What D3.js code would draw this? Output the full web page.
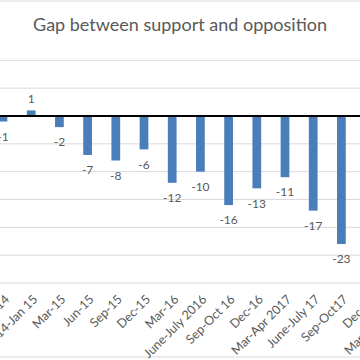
<!DOCTYPE html>
<html>
<head>
<meta charset="utf-8">
<script src="https://cdn.jsdelivr.net/npm/d3@7"></script>
<style>
  body { margin: 0; background: #fff; }
  svg { display: block; font-family: Lato, "Open Sans", sans-serif; }
</style>
</head>
<body>
<svg id="chart" width="360" height="360"></svg>
<script>
// data
const categories = ["Sep-14", "Dec 14-Jan 15", "Mar-15", "Jun-15", "Sep-15", "Dec-15", "Mar-16",
  "June-July 2016", "Sep-Oct 16", "Dec-16", "Mar-Apr 2017", "June-July 17", "Sep-Oct17",
  "Dec-17", "Mar-Apr 2018"];
const gap = [-1, 1, -2, -7, -8, -6, -12, -10, -16, -13, -11, -17, -23, null, null];
const yTicks = [10, 5, 0, -5, -10, -15, -20, -25, -30];

const svg = d3.select("#chart");
const W = 360, H = 360;

// chart border (only top and bottom fall inside the view)
svg.append("rect")
  .attr("x", -2).attr("y", 1)
  .attr("width", W + 4).attr("height", 356)
  .attr("fill", "none")
  .attr("stroke", "#d9d9d9");

// title
svg.append("text")
  .attr("x", 180)
  .attr("y", 31)
  .attr("text-anchor", "middle")
  .style("font-size", "18px")
  .style("fill", "#595959")
  .text("Gap between support and opposition");

// scales - plot runs off the left and right edge of the view
const step = 28.2;
const firstCenter = 3;
const x = d3.scaleBand()
  .domain(categories)
  .range([firstCenter - step / 2, firstCenter - step / 2 + step * categories.length])
  .paddingInner(0.69)
  .paddingOuter(0.345);

const y = d3.scaleLinear()
  .domain([-30, 10])
  .range([283, 60.3]);

// gridlines
svg.append("g")
  .selectAll("line")
  .data(yTicks.filter(d => d !== 0))
  .join("line")
    .attr("x1", -10).attr("x2", W + 10)
    .attr("y1", d => y(d)).attr("y2", d => y(d))
    .attr("stroke", "#d9d9d9")
    .attr("stroke-width", 1);

// bars
const rows = categories.map((c, i) => ({ cat: c, v: gap[i] })).filter(d => d.v != null);
svg.append("g")
  .selectAll("rect")
  .data(rows)
  .join("rect")
    .attr("x", d => x(d.cat))
    .attr("width", x.bandwidth())
    .attr("y", d => y(Math.max(0, d.v)))
    .attr("height", d => Math.abs(y(d.v) - y(0)))
    .attr("fill", "#4a7ebb");

// zero line
svg.append("line")
  .attr("x1", -10).attr("x2", W + 10)
  .attr("y1", y(0)).attr("y2", y(0))
  .attr("stroke", "#000")
  .attr("stroke-width", 2);

// data labels
svg.append("g")
  .selectAll("text")
  .data(rows)
  .join("text")
    .attr("x", d => x(d.cat) + x.bandwidth() / 2)
    .attr("y", d => d.v < 0 ? y(d.v) + 15 : y(d.v) - 12)
    .attr("dy", "0.35em")
    .attr("text-anchor", "middle")
    .style("font-size", "12px")
    .style("fill", "#595959")
    .text(d => d.v);

// category labels (rotated, below the plot)
svg.append("g")
  .selectAll("text")
  .data(categories)
  .join("text")
    .attr("transform", d => `translate(${x(d) + x.bandwidth() / 2 + 4},${297}) rotate(-45)`)
    .attr("dy", "0.35em")
    .attr("text-anchor", "end")
    .style("font-size", "12.5px")
    .style("fill", "#595959")
    .text(d => d);
</script>
</body>
</html>
